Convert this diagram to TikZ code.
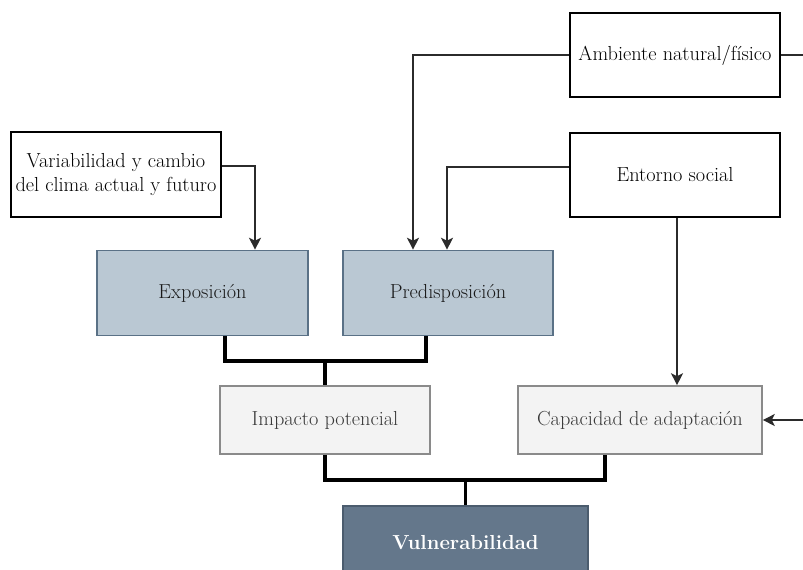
\documentclass[tikz,border=0pt]{standalone}
\usepackage{xcolor}
\usepackage{tikz}
\usetikzlibrary{arrows.meta, positioning, calc}

\definecolor{expofill}{HTML}{BAC8D3}
\definecolor{expoline}{HTML}{5A7186}
\definecolor{vulfill}{HTML}{64778B}
\definecolor{vulline}{HTML}{4B5C6E}
\definecolor{impfill}{HTML}{F3F3F3}
\definecolor{impline}{HTML}{8A8A8A}
\definecolor{conn}{HTML}{2B2B2B}

\begin{document}
\begin{tikzpicture}[x=1pt, y=-1pt, font=\fontsize{20.3}{24.5}\selectfont,
    whitebox/.style={draw=black, line width=1.6pt, fill=white, align=center,
      inner sep=0pt},
    bluebox/.style={draw=expoline, line width=1.6pt, fill=expofill,
      text=black!90, inner sep=0pt},
    greybox/.style={draw=impline, line width=1.6pt, fill=impfill,
      text=black!78, inner sep=0pt},
    darkbox/.style={draw=vulline, line width=1.6pt, fill=vulfill,
      text=white, font=\fontsize{20.3}{24.5}\selectfont\bfseries, inner sep=0pt},
    arrowline/.style={draw=conn, line width=1.5pt,
      -{Stealth[length=12pt, width=12pt, inset=3pt]}},
    plainline/.style={draw=conn, line width=1.5pt},
    joinline/.style={draw=black, line width=3.2pt}]
  \clip (0,0) rectangle (803,570);
  \useasboundingbox (0,0) rectangle (803,570);

  %--- outer factors (white boxes) ---
  \node[whitebox, minimum width=210pt, minimum height=84pt]
    (amb) at (675,55) {Ambiente natural/físico};
  \node[whitebox, minimum width=210pt, minimum height=84pt]
    (ent) at (675,175) {Entorno social};
  \node[whitebox, minimum width=210pt, minimum height=85pt]
    (var) at (116,174.5) {Variabilidad y cambio\\del clima actual y futuro};

  %--- exposure / predisposition ---
  \node[bluebox, minimum width=211pt, minimum height=85pt]
    (expo) at (202.5,293) {Exposición};
  \node[bluebox, minimum width=210pt, minimum height=85pt]
    (pred) at (448,293) {Predisposición};

  %--- impact / capacity ---
  \node[greybox, minimum width=210pt, minimum height=68pt]
    (imp) at (325,420) {Impacto potencial};
  \node[greybox, minimum width=244pt, minimum height=68pt]
    (cap) at (640,420) {Capacidad de adaptación};

  %--- result (runs off the bottom edge) ---
  \node[darkbox, minimum width=245pt, minimum height=80pt, text depth=0pt]
    (vul) at (465.5,546) {\raisebox{7pt}{Vulnerabilidad}};

  % free ends at the right border
  \coordinate (ambout) at (803,55);
  \coordinate (capin) at (803,420);

  % arrows into the upper boxes
  \draw[arrowline] ($(var.east)+(0,-8.5)$) -| ($(expo.north)+(52.5,0)$);
  \draw[arrowline] (amb.west) -| ($(pred.north)+(-35,0)$);
  \draw[arrowline] ($(ent.west)+(0,-8)$) -| ($(pred.north)+(-1,0)$);
  \draw[plainline] (amb.east) -- (ambout);

  % arrows into capacity
  \draw[arrowline] (ent.south) ++(2,0) coordinate (entdown)
    -- (entdown |- cap.north);
  \draw[arrowline] (capin) -- (cap.east);

  % thick joins
  \coordinate (j1) at (325,361);
  \draw[joinline] ($(expo.south)+(22.5,0)$) |- (j1)
    -| ($(pred.south)+(-22,0)$);
  \draw[joinline] (j1) -- (imp.north);
  \coordinate (j2) at (465.5,480);
  \draw[joinline] (imp.south) |- (j2) -| ($(cap.south)+(-35,0)$);
  \draw[joinline] (j2) -- (vul.north);
\end{tikzpicture}
\end{document}
